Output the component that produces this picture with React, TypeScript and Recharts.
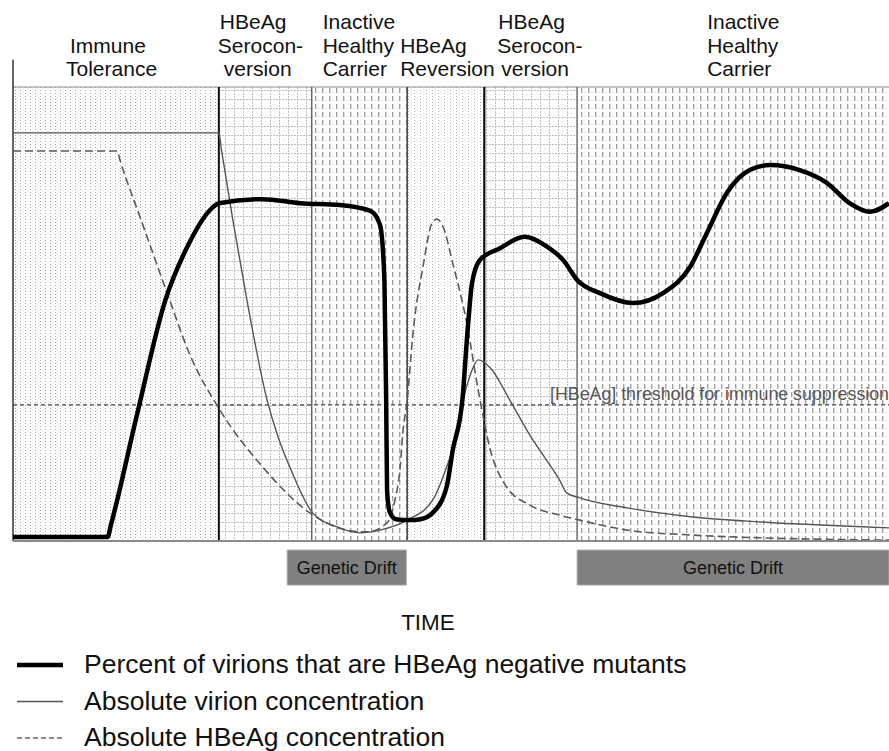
import React from 'react';
import { ComposedChart, Line, XAxis, YAxis, ReferenceArea, ReferenceLine } from 'recharts';

// ---------------- data ----------------
const phaseStart = [0, 23.5, 34.1, 45.0, 53.8, 64.4];
const phaseEnd = [23.5, 34.1, 45.0, 53.8, 64.4, 100];
const phaseLabels = [
  ['Immune', 'Tolerance'],
  ['HBeAg', 'Serocon-', 'version'],
  ['Inactive', 'Healthy', 'Carrier'],
  ['HBeAg', 'Reversion'],
  ['HBeAg', 'Serocon-', 'version'],
  ['Inactive', 'Healthy', 'Carrier'],
];

const mutantTime = [0, 10.8, 11.2, 14.2, 17.4, 19.9, 22.5, 23.5, 28.5, 32.8, 37.3, 40.8, 41.9, 42.4, 42.6, 42.7, 43.0, 43.7, 45.3, 46.5, 47.9, 49.5, 50.2, 51.3, 51.9, 52.4, 53.3, 55.6, 58.4, 61.0, 62.8, 64.4, 67.0, 70.8, 74.2, 77.3, 79.2, 81.5, 84.1, 86.4, 89.8, 92.9, 95.5, 97.8, 100];
const mutantPct = [0.9, 0.9, 3.7, 28.2, 53.1, 64.8, 72.9, 74.4, 75.3, 74.4, 74.0, 72.7, 69.6, 57.5, 31.1, 11.2, 6.4, 4.8, 4.6, 4.8, 6.2, 11.9, 20.0, 31.1, 46.5, 56.8, 61.9, 64.5, 67.0, 64.8, 61.9, 57.5, 54.6, 52.4, 54.6, 60.4, 67.8, 76.7, 81.7, 82.8, 81.7, 78.9, 74.4, 72.5, 74.4];

const virionTime = [0, 23.5, 23.8, 25.1, 26.7, 29.0, 30.3, 31.6, 34.2, 37.0, 39.6, 41.9, 45.0, 47.9, 49.5, 50.7, 51.4, 52.2, 53.1, 54.5, 56.7, 59.0, 61.3, 62.4, 63.2, 64.7, 70.1, 77.6, 85.3, 100];
const virionConc = [89.9, 89.9, 86.1, 70.7, 53.1, 31.1, 22.7, 16.3, 6.2, 3.1, 1.8, 2.4, 4.6, 9.0, 16.3, 23.8, 31.1, 36.6, 39.9, 38.1, 31.1, 23.3, 16.7, 13.4, 10.6, 9.5, 7.3, 5.3, 4.2, 2.9];

const hbeagTime = [0, 11.9, 12.2, 14.7, 17.6, 20.2, 23.6, 28.5, 33.9, 38.1, 40.4, 42.7, 43.6, 44.2, 44.5, 45.0, 45.7, 46.8, 47.9, 48.4, 49.1, 50.2, 51.8, 53.1, 54.5, 56.2, 59.0, 62.4, 64.7, 70.1, 77.6, 85.3, 100];
const hbeagConc = [85.9, 85.9, 84.0, 70.3, 54.6, 41.0, 28.9, 16.3, 6.2, 2.4, 2.0, 4.0, 9.0, 16.3, 23.8, 31.1, 46.5, 60.4, 70.3, 70.9, 69.2, 61.2, 48.0, 33.3, 20.0, 12.3, 7.9, 5.7, 4.6, 2.4, 1.3, 0.7, 0.2];

const thresholdLevel = 30;
const thresholdText = '[HBeAg] threshold for immune suppression';

const driftStart = [31.3, 64.4];
const driftEnd = [44.9, 100];
const driftText = 'Genetic Drift';
const driftBand = [-2.0, -9.7];

const axisTitle = 'TIME';
const seriesNames = [
  'Percent of virions that are HBeAg negative mutants',
  'Absolute virion concentration',
  'Absolute HBeAg concentration',
];

// ---------------- build ----------------
const mutantData = mutantTime.map((t, i) => ({ t, v: mutantPct[i] }));
const virionData = virionTime.map((t, i) => ({ t, v: virionConc[i] }));
const hbeagData = hbeagTime.map((t, i) => ({ t, v: hbeagConc[i] }));

const FONT = '"Liberation Sans", Arial, Helvetica, sans-serif';
const PATTERNS = ['pDots', 'pGrid', 'pDash', 'pDots2', 'pGrid', 'pDash'];
const LABEL_DX = [[57, 53], [1, -1, 5], [11, 11, 11], [-7, -7], [14, 13, 17], [130, 130, 130]];
const BOUND_STYLE = [
  { stroke: '#111', w: 2 },
  { stroke: '#666', w: 1.5 },
  { stroke: '#444', w: 1.5 },
  { stroke: '#111', w: 2.2 },
  { stroke: '#777', w: 1.5 },
];
const SERIES_STYLE = [
  { stroke: '#000', w: 4.5, dash: undefined as string | undefined },
  { stroke: '#555', w: 1.4, dash: undefined as string | undefined },
  { stroke: '#5a5a5a', w: 1.6, dash: '8 4' },
];

function PhaseLabel(props: any) {
  const { viewBox, lines, dxs } = props;
  if (!viewBox) return null;
  const n = lines.length;
  return (
    <g>
      {lines.map((s: string, i: number) => (
        <text
          key={i}
          x={viewBox.x + dxs[i]}
          y={viewBox.y - 11 - (n - 1 - i) * 23.5}
          fontSize={21}
          fill="#111"
          fontFamily={FONT}
        >
          {s}
        </text>
      ))}
    </g>
  );
}

function ThresholdLabel(props: any) {
  const { viewBox } = props;
  if (!viewBox) return null;
  return (
    <text
      x={viewBox.x + viewBox.width}
      y={viewBox.y - 5}
      textAnchor="end"
      fontSize={17.8}
      fill="#555"
      fontFamily={FONT}
    >
      {thresholdText}
    </text>
  );
}

function DriftLabel(props: any) {
  const { viewBox } = props;
  if (!viewBox) return null;
  return (
    <text
      x={viewBox.x + viewBox.width / 2}
      y={viewBox.y + viewBox.height / 2 + 6.5}
      textAnchor="middle"
      fontSize={18}
      fill="#111"
      fontFamily={FONT}
    >
      {driftText}
    </text>
  );
}

function AxisTitle(props: any) {
  const { viewBox } = props;
  if (!viewBox) return null;
  return (
    <text
      x={viewBox.x + viewBox.width / 2 - 23}
      y={viewBox.y + 89}
      textAnchor="middle"
      fontSize={22.5}
      fill="#111"
      fontFamily={FONT}
    >
      {axisTitle}
    </text>
  );
}

function LegendBlock() {
  return (
    <g>
      {seriesNames.map((name, i) => {
        const y = 665 + i * 36.5;
        const s = SERIES_STYLE[i];
        return (
          <g key={name}>
            <line
              x1={17}
              x2={63}
              y1={y}
              y2={y}
              stroke={i === 2 ? '#666' : s.stroke}
              strokeWidth={i === 0 ? 4.5 : 1.3}
              strokeDasharray={i === 2 ? '5 3' : undefined}
            />
            <text x={84} y={y + 8} fontSize={26.5} fill="#111" fontFamily={FONT}>
              {name}
            </text>
          </g>
        );
      })}
    </g>
  );
}

export default function App() {
  return (
    <div style={{ position: 'absolute', left: 0, top: 0, width: 889, height: 751, background: '#fff' }}>
      <ComposedChart
        width={889}
        height={751}
        margin={{ top: 87, right: 0, bottom: 209, left: 13 }}
      >
        <defs>
          <pattern id="pDots" width="5" height="3" patternUnits="userSpaceOnUse">
            <rect width="5" height="3" fill="#fff" />
            <rect x="0" y="0" width="1" height="1" fill="#a4a4a4" />
            <rect x="2.5" y="1.5" width="1" height="1" fill="#d6d6d6" />
          </pattern>
          <pattern id="pDots2" width="6" height="3" patternUnits="userSpaceOnUse">
            <rect width="6" height="3" fill="#fff" />
            <rect x="0" y="0" width="1" height="1" fill="#b0b0b0" />
            <rect x="3" y="1.5" width="1" height="1" fill="#dddddd" />
          </pattern>
          <pattern id="pGrid" width="9" height="9" patternUnits="userSpaceOnUse">
            <rect width="9" height="9" fill="#fff" />
            <path d="M0 0.5H9M0.5 0V9" stroke="#bdbdbd" strokeWidth="1" strokeDasharray="2 1" />
            <rect x="4.5" y="4.5" width="1" height="1" fill="#d8d8d8" />
          </pattern>
          <pattern id="pDash" width="7" height="8" patternUnits="userSpaceOnUse">
            <rect width="7" height="8" fill="#fff" />
            <rect x="0" y="0" width="1.4" height="5" fill="#a0a0a0" />
            <rect x="3.5" y="4" width="1" height="1" fill="#cccccc" />
          </pattern>
        </defs>

        <XAxis
          dataKey="t"
          type="number"
          domain={[0, 100]}
          allowDataOverflow
          height={1}
          tick={false}
          tickLine={false}
          axisLine={{ stroke: '#8a8a8a', strokeWidth: 2 }}
          label={<AxisTitle />}
        />
        <YAxis type="number" domain={[0, 100]} hide allowDataOverflow />

        {phaseStart.map((s, i) => (
          <ReferenceArea
            key={'ph' + i}
            x1={s}
            x2={phaseEnd[i]}
            y1={0}
            y2={100}
            fill={`url(#${PATTERNS[i]})`}
            fillOpacity={1}
            stroke="none"
            label={<PhaseLabel lines={phaseLabels[i]} dxs={LABEL_DX[i]} />}
          />
        ))}

        {driftStart.map((s, i) => (
          <ReferenceArea
            key={'gd' + i}
            x1={s}
            x2={driftEnd[i]}
            y1={driftBand[1]}
            y2={driftBand[0]}
            ifOverflow="visible"
            fill="#808080"
            fillOpacity={1}
            stroke="#a8a8a8"
            strokeWidth={1}
            label={<DriftLabel />}
          />
        ))}

        <ReferenceLine y={100} stroke="#8a8a8a" strokeWidth={1} />
        <ReferenceLine
          segment={[{ x: 0, y: 0 }, { x: 0, y: 106 }]}
          ifOverflow="visible"
          stroke="#333"
          strokeWidth={1.5}
        />
        {phaseStart.slice(1).map((b, i) => (
          <ReferenceLine
            key={'b' + i}
            x={b}
            stroke={BOUND_STYLE[i].stroke}
            strokeWidth={BOUND_STYLE[i].w}
          />
        ))}
        <ReferenceLine
          y={thresholdLevel}
          stroke="#444"
          strokeWidth={1.3}
          strokeDasharray="4 3"
          label={<ThresholdLabel />}
        />

        <Line
          data={hbeagData}
          dataKey="v"
          type="monotone"
          stroke={SERIES_STYLE[2].stroke}
          strokeWidth={SERIES_STYLE[2].w}
          strokeDasharray={SERIES_STYLE[2].dash}
          dot={false}
          activeDot={false}
          isAnimationActive={false}
        />
        <Line
          data={virionData}
          dataKey="v"
          type="monotone"
          stroke={SERIES_STYLE[1].stroke}
          strokeWidth={SERIES_STYLE[1].w}
          dot={false}
          activeDot={false}
          isAnimationActive={false}
        />
        <Line
          data={mutantData}
          dataKey="v"
          type="monotone"
          stroke={SERIES_STYLE[0].stroke}
          strokeWidth={SERIES_STYLE[0].w}
          dot={false}
          activeDot={false}
          isAnimationActive={false}
        />

        <LegendBlock />
      </ComposedChart>
    </div>
  );
}
